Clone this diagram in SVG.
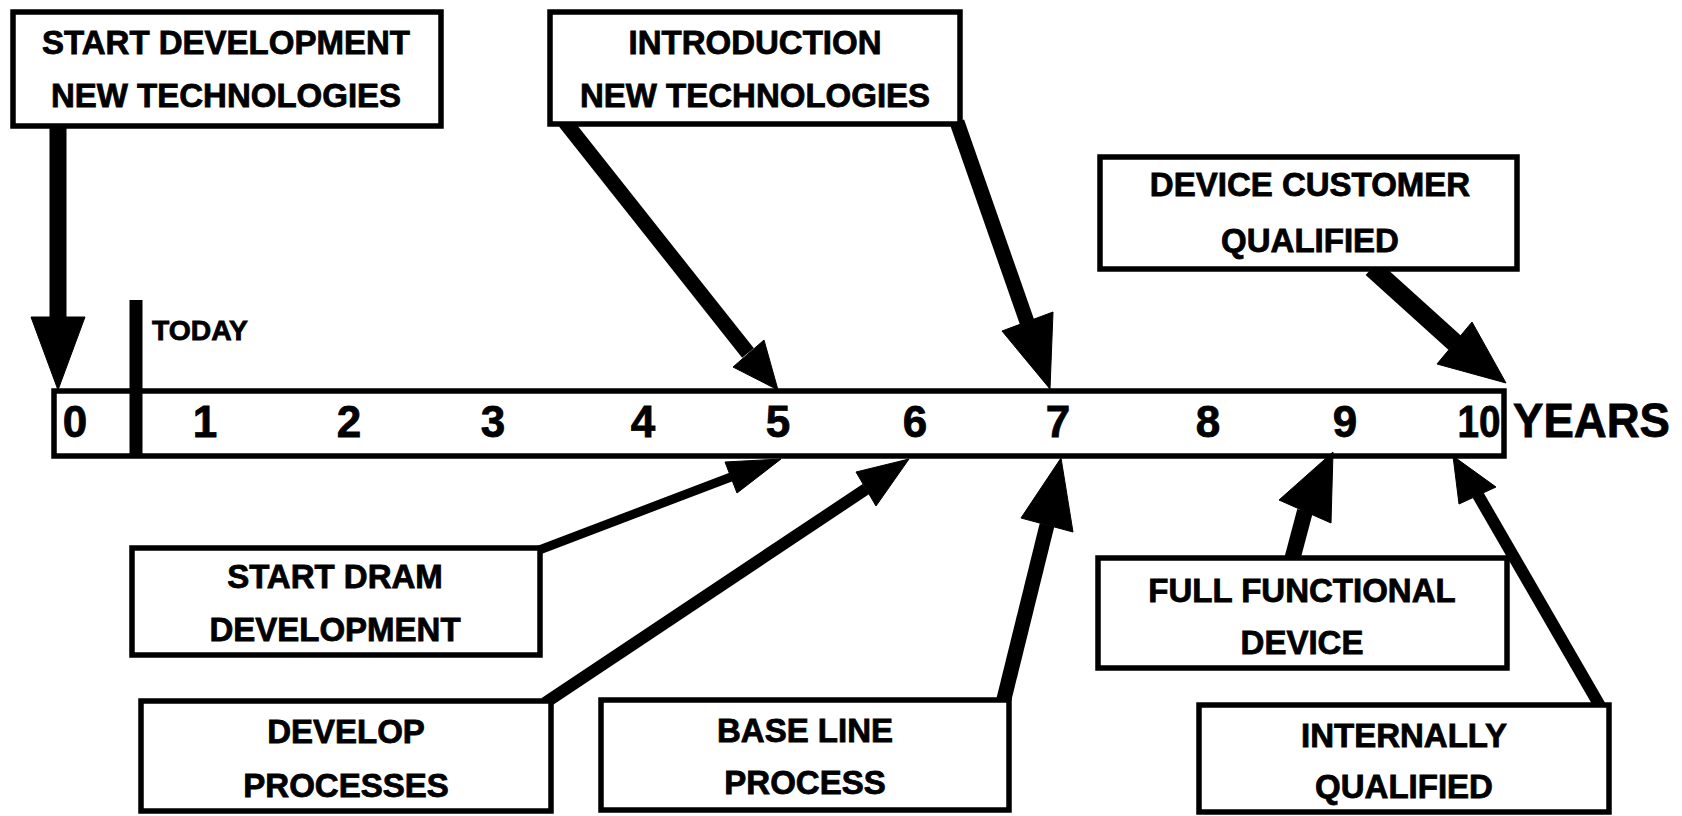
<svg xmlns="http://www.w3.org/2000/svg" width="1682" height="816" viewBox="0 0 1682 816">
  <style>
    .box { fill: #fff; stroke: #000; stroke-width: 5.5; }
    .lbl { font-family: "Liberation Sans", Arial, sans-serif; font-weight: bold; font-size: 33px; fill: #000; stroke: #000; stroke-width: 0.8; text-anchor: middle; }
    .num { font-family: "Liberation Sans", Arial, sans-serif; font-weight: bold; font-size: 44px; fill: #000; stroke: #000; stroke-width: 0.8; text-anchor: middle; }
    .tag { font-family: "Liberation Sans", Arial, sans-serif; font-weight: bold; fill: #000; stroke: #000; stroke-width: 0.8; }
    .shaft { stroke: #000; fill: none; stroke-linecap: butt; }
    .head { fill: #000; stroke: #000; stroke-width: 1; stroke-linejoin: miter; }
  </style>
  <rect width="1682" height="816" fill="#fff"/>

  <!-- time axis -->
  <g id="timeline">
    <rect class="box" x="54" y="391" width="1450" height="65"/>
    <line x1="136" y1="300" x2="136" y2="458" stroke="#000" stroke-width="13"/>
    <text class="tag" x="152" y="340" font-size="28" textLength="96" lengthAdjust="spacingAndGlyphs">TODAY</text>
    <text class="num" x="75" y="437">0</text>
    <text class="num" x="205" y="437">1</text>
    <text class="num" x="349" y="437">2</text>
    <text class="num" x="493" y="437">3</text>
    <text class="num" x="643" y="437">4</text>
    <text class="num" x="778" y="437">5</text>
    <text class="num" x="915" y="437">6</text>
    <text class="num" x="1058" y="437">7</text>
    <text class="num" x="1208" y="437">8</text>
    <text class="num" x="1345" y="437">9</text>
    <text class="num" x="1479" y="437" textLength="43" lengthAdjust="spacingAndGlyphs">10</text>
    <text class="tag" x="1513" y="437" font-size="49" textLength="157" lengthAdjust="spacingAndGlyphs">YEARS</text>
  </g>

  <!-- arrows from milestones to the axis -->
  <g id="connectors">
    <line class="shaft" x1="58" y1="124" x2="58" y2="320" stroke-width="17"/>
    <polygon class="head" points="31,317 85,317 58,390"/>

    <line class="shaft" x1="565" y1="122" x2="748" y2="353" stroke-width="15"/>
    <polygon class="head" points="733,367 764,340 778,390"/>

    <line class="shaft" x1="957" y1="122" x2="1027" y2="322" stroke-width="15"/>
    <polygon class="head" points="1002,331 1053,312 1050,389"/>

    <line class="shaft" x1="1372" y1="268" x2="1455" y2="343" stroke-width="19"/>
    <polygon class="head" points="1437,364 1472,322 1506,383"/>

    <line class="shaft" x1="534" y1="552" x2="731" y2="477" stroke-width="9"/>
    <polygon class="head" points="725,462 737,493 781,459"/>

    <line class="shaft" x1="545" y1="703" x2="866" y2="489" stroke-width="12"/>
    <polygon class="head" points="856,472 876,506 909,459"/>

    <line class="shaft" x1="1003" y1="703" x2="1047" y2="525" stroke-width="15"/>
    <polygon class="head" points="1021,518 1073,532 1061,458"/>

    <line class="shaft" x1="1292" y1="560" x2="1305" y2="511" stroke-width="16"/>
    <polygon class="head" points="1279,500 1331,523 1333,452"/>

    <line class="shaft" x1="1600" y1="706" x2="1478" y2="495" stroke-width="12"/>
    <polygon class="head" points="1459,504 1496,487 1453,456"/>
  </g>

  <g id="start-development">
    <rect class="box" x="13" y="12" width="428" height="114"/>
    <text class="lbl" x="226" y="54">START DEVELOPMENT</text>
    <text class="lbl" x="226" y="107">NEW TECHNOLOGIES</text>
  </g>

  <g id="introduction">
    <rect class="box" x="550" y="12" width="410" height="112"/>
    <text class="lbl" x="755" y="54">INTRODUCTION</text>
    <text class="lbl" x="755" y="107">NEW TECHNOLOGIES</text>
  </g>

  <g id="customer-qualified">
    <rect class="box" x="1100" y="157" width="417" height="112"/>
    <text class="lbl" x="1310" y="196">DEVICE CUSTOMER</text>
    <text class="lbl" x="1310" y="252">QUALIFIED</text>
  </g>

  <g id="start-dram">
    <rect class="box" x="132" y="548" width="408" height="107"/>
    <text class="lbl" x="335" y="588">START DRAM</text>
    <text class="lbl" x="335" y="641">DEVELOPMENT</text>
  </g>

  <g id="develop-processes">
    <rect class="box" x="141" y="701" width="410" height="110"/>
    <text class="lbl" x="346" y="743">DEVELOP</text>
    <text class="lbl" x="346" y="797">PROCESSES</text>
  </g>

  <g id="base-line-process">
    <rect class="box" x="601" y="700" width="408" height="110"/>
    <text class="lbl" x="805" y="742">BASE LINE</text>
    <text class="lbl" x="805" y="794">PROCESS</text>
  </g>

  <g id="full-functional">
    <rect class="box" x="1098" y="558" width="409" height="110"/>
    <text class="lbl" x="1302" y="602">FULL FUNCTIONAL</text>
    <text class="lbl" x="1302" y="654">DEVICE</text>
  </g>

  <g id="internally-qualified">
    <rect class="box" x="1199" y="705" width="410" height="107"/>
    <text class="lbl" x="1404" y="747">INTERNALLY</text>
    <text class="lbl" x="1404" y="798">QUALIFIED</text>
  </g>
</svg>
